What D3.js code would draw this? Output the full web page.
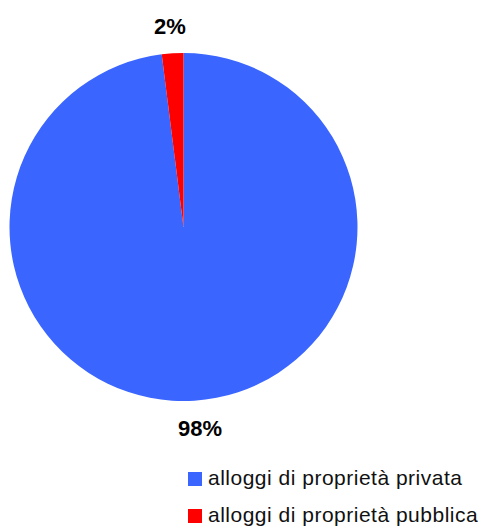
<!DOCTYPE html>
<html lang="it">
<head>
    <meta charset="UTF-8">
    <title>Alloggi</title>
    <style>
        body { margin: 0; background: #fff; }
        .chart svg { display: block; }
        .label { font-family: "Liberation Sans", Arial, sans-serif; font-weight: bold; font-size: 22px; fill: #000; }
        .legend text { font-family: "Liberation Sans", Arial, sans-serif; font-size: 21px; letter-spacing: 0.5px; fill: #111; }
    </style>
</head>
<body>
    <div class="chart"></div>
    <script src="https://cdn.jsdelivr.net/npm/d3@7/dist/d3.min.js"></script>
    <script>
    (function()
    {
        "use strict";

        var categorie = ["alloggi di proprietà privata", "alloggi di proprietà pubblica"];
        var valori    = [98, 2];
        var etichette = ["98%", "2%"];
        var colori    = ["#3a66ff", "#ff0000"];

        var container = { width: 484, height: 528 };
        var center = { x: 183.5, y: 227 };
        var radius = 174;
        var labelRadius = 201;

        var dati = categorie.map(function(c, i) {
            return { nome: c, valore: valori[i], etichetta: etichette[i], colore: colori[i] };
        });

        var svg = d3.select(".chart").append("svg")
            .attr("width", container.width)
            .attr("height", container.height)
            .attr("viewBox", [0, 0, container.width, container.height].join(" "));

        var pie = d3.pie()
            .value(function(d) { return d.valore; })
            .sort(null);

        var arc = d3.arc()
            .innerRadius(0)
            .outerRadius(radius);

        var labelArc = d3.arc()
            .innerRadius(labelRadius)
            .outerRadius(labelRadius);

        var g = svg.append("g")
            .attr("transform", "translate(" + center.x + "," + center.y + ")");

        g.selectAll("path.settore")
            .data(pie(dati))
            .enter().append("path")
            .attr("class", "settore")
            .attr("d", arc)
            .attr("fill", function(d) { return d.data.colore; });

        // etichette: spostate un poco verso il lato della fetta
        g.selectAll("text.label")
            .data(pie(dati))
            .enter().append("text")
            .attr("class", "label")
            .attr("transform", function(d) {
                var c = labelArc.centroid(d);
                var dx = c[0] > 0 ? 4 : -1;
                return "translate(" + (c[0] + dx) + "," + c[1] + ")";
            })
            .attr("text-anchor", "middle")
            .attr("dy", "0.36em")
            .text(function(d) { return d.data.etichetta; });

        // legenda
        var legend = svg.append("g")
            .attr("class", "legend")
            .attr("transform", "translate(188,472)");

        var y = d3.scaleBand()
            .domain(categorie)
            .range([0, 74]);

        var voci = legend.selectAll("g.voce")
            .data(dati)
            .enter().append("g")
            .attr("class", "voce")
            .attr("transform", function(d) { return "translate(0," + y(d.nome) + ")"; });

        voci.append("rect")
            .attr("width", 14)
            .attr("height", 14)
            .attr("fill", function(d) { return d.colore; });

        voci.append("text")
            .attr("x", 20)
            .attr("y", 13)
            .text(function(d) { return d.nome; });
    })();
    </script>
</body>
</html>
